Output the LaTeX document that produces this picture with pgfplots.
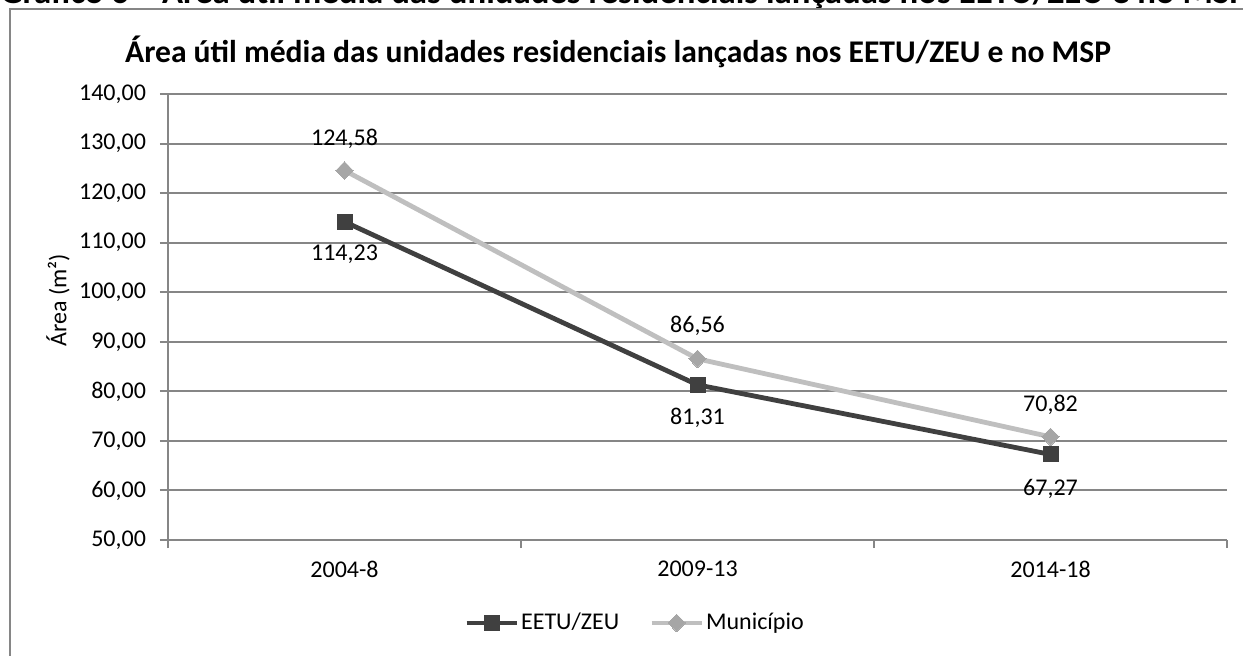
\documentclass[border=0pt]{standalone}
\usepackage{pgfplots}
\pgfplotsset{compat=1.18}
\usepackage{pgfplotstable}
\usepackage{fontspec}
\setmainfont{Carlito}
\definecolor{darkser}{HTML}{404040}
\definecolor{lightser}{HTML}{BFBFBF}
\definecolor{lightmark}{HTML}{A6A6A6}
\definecolor{gridc}{HTML}{868686}
\pgfplotstableread{
x y lab off
0 114.23 114,23 -16.5
1 81.31 81,31 -16.5
2 67.27 67,27 -17.5
}\eetu
\pgfplotstableread{
x y lab off
0 124.58 124,58 16
1 86.56 86,56 16.5
2 70.82 70,82 16
}\mun
\begin{document}
\begin{tikzpicture}[x=0.5pt,y=0.5pt]
\useasboundingbox (0,0) rectangle (1243,655);
\begin{scope}
\clip (0,0) rectangle (1243,655);
\node[anchor=base west, inner sep=0, font=\bfseries\fontsize{17.4}{19}\selectfont] at (0,651) {Gráfico 6 – Área útil média das unidades residenciais lançadas nos EETU/ZEU e no MSP};
\draw[gridc, line width=1pt] (10,-20) -- (10,646) -- (1270,646);
\end{scope}
\node[font=\bfseries\fontsize{15.8}{18}\selectfont] at (618,603) {Área útil média das unidades residenciais lançadas nos EETU/ZEU e no MSP};
\begin{axis}[
  at={(84pt,57.5pt)}, anchor=south west, scale only axis,
  width=529.5pt, height=223pt,
  xmin=-0.5, xmax=2.5, ymin=50, ymax=140,
  ytick={50,60,...,140},
  axis lines*=left,
  axis line style={gridc, line width=1pt},
  ymajorgrids, grid style={gridc, line width=1pt},
  tick style={gridc, line width=1pt},
  tick align=outside, major tick length=4pt,
  xtick={-0.5,0.5,1.5,2.5}, xticklabels={},
  extra x ticks={0,1,2}, extra x tick labels={2004-8,2009-13,2014-18},
  extra x tick style={major tick length=0pt, grid=none},
  x tick label style={yshift=-7pt},
  y tick label style={xshift=-3.5pt},
  yticklabel style={/pgf/number format/.cd, fixed, fixed zerofill, precision=2, use comma},
  /pgf/number format/assume math mode=true,
  ticklabel style={font=\fontsize{12}{14}\selectfont, text=black},
  ylabel={Área (m²)},
  every axis y label/.style={at={(rel axis cs:0,0.538)}, xshift=-55pt, rotate=90, anchor=center, font=\fontsize{12}{14}\selectfont},
  legend style={draw=none, legend columns=2, at={(0.441,-0.186)}, anchor=center,
    font=\fontsize{12}{14}\selectfont, inner sep=0pt,
    /tikz/every even column/.append style={column sep=14pt},
    nodes={inner sep=1pt}},
  legend image code/.code={\draw[mark repeat=2,mark phase=2] plot coordinates {(0pt,0pt) (12.5pt,0pt) (25pt,0pt)};},
  nodes near coords,
  point meta=explicit symbolic,
  visualization depends on={\thisrow{off}\as\off},
  every node near coord/.append style={anchor=center, yshift=\off pt, font=\fontsize{12}{14}\selectfont, text=black},
  clip=false,
]
\addplot[darkser, line width=2.4pt, mark=square*, mark size=3.75pt, mark options={solid, fill=darkser, line width=0pt}]
  table[x=x, y=y, meta=lab] {\eetu};
\addlegendentry{EETU/ZEU}
\addplot[lightser, line width=2.4pt, mark=diamond*, mark size=4.4pt, mark options={solid, fill=lightmark, draw=lightmark, line width=0pt, xscale=1.3}]
  table[x=x, y=y, meta=lab] {\mun};
\addlegendentry{Município}
\end{axis}
\end{tikzpicture}
\end{document}
